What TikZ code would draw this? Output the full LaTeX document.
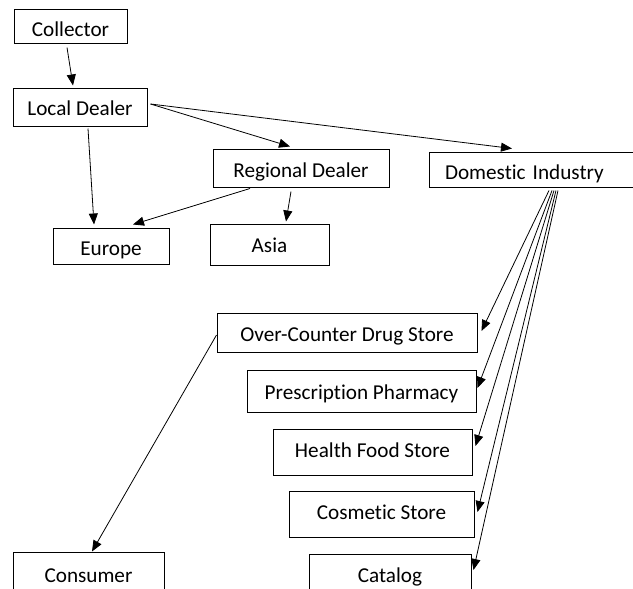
\documentclass[tikz,border=0pt]{standalone}
\usepackage{fontspec}
\setmainfont[Ligatures=CommonOff]{Carlito}
\usepackage{tikz}
\usetikzlibrary{arrows.meta}

\begin{document}
\begin{tikzpicture}[x=1pt,y=-1pt,>={Triangle[length=11pt,width=9pt]},
    box/.style={draw,line width=1pt,inner sep=0pt,text height=16pt,text depth=0pt,
      font=\fontsize{21.2}{25}\selectfont}]

    \useasboundingbox (0,0) rectangle (633,589);

    \node[box,minimum width=113pt,minimum height=34pt,text height=20pt] (coll) at (70.5,26) {Collector};
    \node[box,minimum width=134pt,minimum height=38pt] (local) at (80,107) {Local Dealer};
    \node[box,minimum width=176pt,minimum height=38pt,text height=18pt] (regional) at (301,168) {Regional Dealer};
    \node[box,minimum height=35pt,text width=188pt,inner xsep=16pt,align=left,text height=19pt] (domestic) at (539,169.5) {Domestic Industry};
    \node[box,minimum width=116pt,minimum height=36pt,text height=18pt] (europe) at (111,246) {Europe};
    \node[box,minimum width=119pt,minimum height=41pt,text height=15pt] (asia) at (269.5,244.5) {Asia};

    \node[box,minimum width=260pt,minimum height=39pt,text height=17pt] (over) at (347,332.5) {Over-Counter Drug Store};
    \node[box,minimum width=229pt,minimum height=42pt] (presc) at (361.5,391) {Prescription Pharmacy};
    \node[box,minimum width=199pt,minimum height=46pt,text height=10pt] (health) at (372.5,452) {Health Food Store};
    \node[box,minimum width=185pt,minimum height=46pt,text height=10pt] (cosm) at (381.5,514) {Cosmetic Store};
    \node[box,minimum width=162pt,minimum height=46pt,text height=10pt] (catalog) at (390,577) {Catalog};
    \node[box,minimum width=151pt,minimum height=46pt,text height=14pt] (consumer) at (88.5,575) {Consumer};

    \draw[->,line width=0.8pt] ([xshift=-3.5pt,yshift=-4pt]coll.south) -- ([xshift=-7pt,yshift=2pt]local.north);
    \draw[->,line width=0.8pt] ([xshift=8pt,yshift=-2pt]local.south) -- ([xshift=-17pt,yshift=3pt]europe.north);
    \draw[->,line width=0.8pt] ([xshift=3pt,yshift=3pt]local.east) -- ([xshift=-11pt,yshift=2pt]regional.north);
    \draw[->,line width=0.8pt] ([xshift=3pt,yshift=3pt]local.east) -- ([xshift=-27pt,yshift=3pt]domestic.north);
    \draw[->,line width=0.8pt] ([xshift=-51pt,yshift=-1pt]regional.south) -- ([xshift=22pt,yshift=3pt]europe.north);
    \draw[->,line width=0.8pt] ([xshift=-10pt,yshift=-4pt]regional.south) -- ([xshift=16.5pt,yshift=2pt]asia.north);

    \draw[->,line width=0.8pt] ([xshift=10pt,yshift=-3pt]domestic.south) -- ([xshift=4pt,yshift=1.5pt]over.east);
    \draw[->,line width=0.8pt] ([xshift=13pt,yshift=-3pt]domestic.south) -- ([xshift=1pt,yshift=3pt]presc.east);
    \draw[->,line width=0.8pt] ([xshift=15pt,yshift=-3pt]domestic.south) -- ([xshift=3pt,yshift=6pt]health.east);
    \draw[->,line width=0.8pt] ([xshift=17pt,yshift=-3pt]domestic.south) -- ([xshift=3pt,yshift=2pt]cosm.east);
    \draw[->,line width=0.8pt] ([xshift=19pt,yshift=-3pt]domestic.south) -- ([xshift=2pt,yshift=7pt]catalog.east);

    \draw[->,line width=0.8pt] ([yshift=-2.5pt]over.west) -- ([xshift=3.5pt]consumer.north);

\end{tikzpicture}
\end{document}
